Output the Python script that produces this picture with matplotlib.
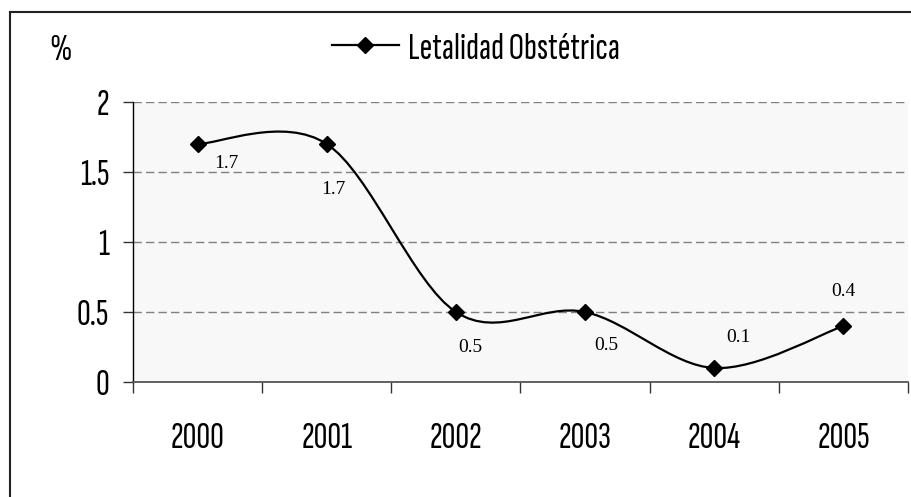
import matplotlib
matplotlib.use("Agg")
import matplotlib.pyplot as plt
from matplotlib.path import Path
from matplotlib.patches import PathPatch
from matplotlib.lines import Line2D
import numpy as np

years = ["2000", "2001", "2002", "2003", "2004", "2005"]
values = [1.7, 1.7, 0.5, 0.5, 0.1, 0.4]
yticks = [0, 0.5, 1, 1.5, 2]
ytick_labels = ["0", "0.5", "1", "1.5", "2"]
series_name = "Letalidad Obstétrica"
unit_label = "%"

SANS = ["Sofia Sans Extra Condensed", "Roboto Condensed", "DejaVu Sans"]
SERIF = ["Liberation Serif", "DejaVu Serif"]
FS = 27.5

W, H = 912, 497
fig = plt.figure(figsize=(W / 100, H / 100), dpi=100)
fig.patch.set_facecolor("white")

ax = fig.add_axes([133 / W, 1 - 382 / H, (908 - 133) / W, (382 - 102) / H])
ax.set_facecolor("#f8f8f8")

x = np.arange(len(values))
y = np.array(values, dtype=float)

# Excel-like smoothed line (Catmull-Rom as cubic Bezier)
verts = [(x[0], y[0])]
codes = [Path.MOVETO]
n = len(x)
for i in range(n - 1):
    p0 = np.array([x[max(i - 1, 0)], y[max(i - 1, 0)]])
    p1 = np.array([x[i], y[i]])
    p2 = np.array([x[i + 1], y[i + 1]])
    p3 = np.array([x[min(i + 2, n - 1)], y[min(i + 2, n - 1)]])
    c1 = p1 + (p2 - p0) / 6.0
    c2 = p2 - (p3 - p1) / 6.0
    verts += [tuple(c1), tuple(c2), tuple(p2)]
    codes += [Path.CURVE4] * 3
ax.add_patch(PathPatch(Path(verts, codes), fill=False, edgecolor="black",
                       lw=1.6, zorder=3))
ax.plot(x, y, linestyle="none", marker="D", markersize=7.8, color="black",
        zorder=4)

# data labels
offsets = [(29, -20), (7, -45), (14, -35), (21, -33), (24, 31), (0, 35)]
for xi, yi, (dx, dy) in zip(x, y, offsets):
    ax.annotate(f"{yi:.1f}", (xi, yi), xytext=(dx * 0.72, dy * 0.72),
                textcoords="offset points", ha="center", va="center",
                fontsize=14, family=SERIF, color="black", zorder=5)

ax.set_xlim(-0.5, len(values) - 0.5)
ax.set_ylim(0, 2)

# grid
for gy in yticks[1:]:
    ax.axhline(gy, color="#808080", lw=1.0, linestyle=(0, (6, 3)), zorder=1)

# spines
for s in ["top", "right"]:
    ax.spines[s].set_visible(False)
ax.spines["left"].set_color("black")
ax.spines["left"].set_linewidth(1.0)
ax.spines["bottom"].set_color("#555555")
ax.spines["bottom"].set_linewidth(1.3)

ax.set_yticks(yticks)
ax.set_yticklabels(ytick_labels, family=SANS, fontsize=FS)
ax.tick_params(axis="y", direction="out", length=7.2, width=1.0, pad=10,
               color="#333333")

ax.set_xticks(np.arange(-0.5, len(values), 1.0))
ax.set_xticklabels([])
ax.tick_params(axis="x", which="major", direction="out", length=8,
               width=1.0, color="#333333")
ax.set_xticks(x, minor=True)
ax.set_xticklabels(years, minor=True, family=SANS, fontsize=FS)
ax.tick_params(axis="x", which="minor", length=0, pad=28.5)

# unit label
fig.text(60 / W, 1 - 51 / H, unit_label, ha="center", va="center",
         family=SANS, fontsize=FS)

# legend
handle = Line2D([], [], color="black", lw=1.6, marker="D", markersize=7.8)
leg = fig.legend([handle], [series_name], loc="center left",
                 bbox_to_anchor=(332 / W, 1 - 49 / H), frameon=False,
                 borderpad=0, borderaxespad=0, handlelength=1.75,
                 handletextpad=0.25, prop={"family": SANS, "size": FS})

# figure border (top & left visible)
fig.add_artist(Line2D([10 / W, 10 / W], [0, 1 - 12 / H], color="#222222",
                      lw=1.5, transform=fig.transFigure))
fig.add_artist(Line2D([10 / W, 1], [1 - 12 / H, 1 - 12 / H], color="#222222",
                      lw=1.5, transform=fig.transFigure))

fig.savefig("out.png", dpi=100, facecolor="white")
